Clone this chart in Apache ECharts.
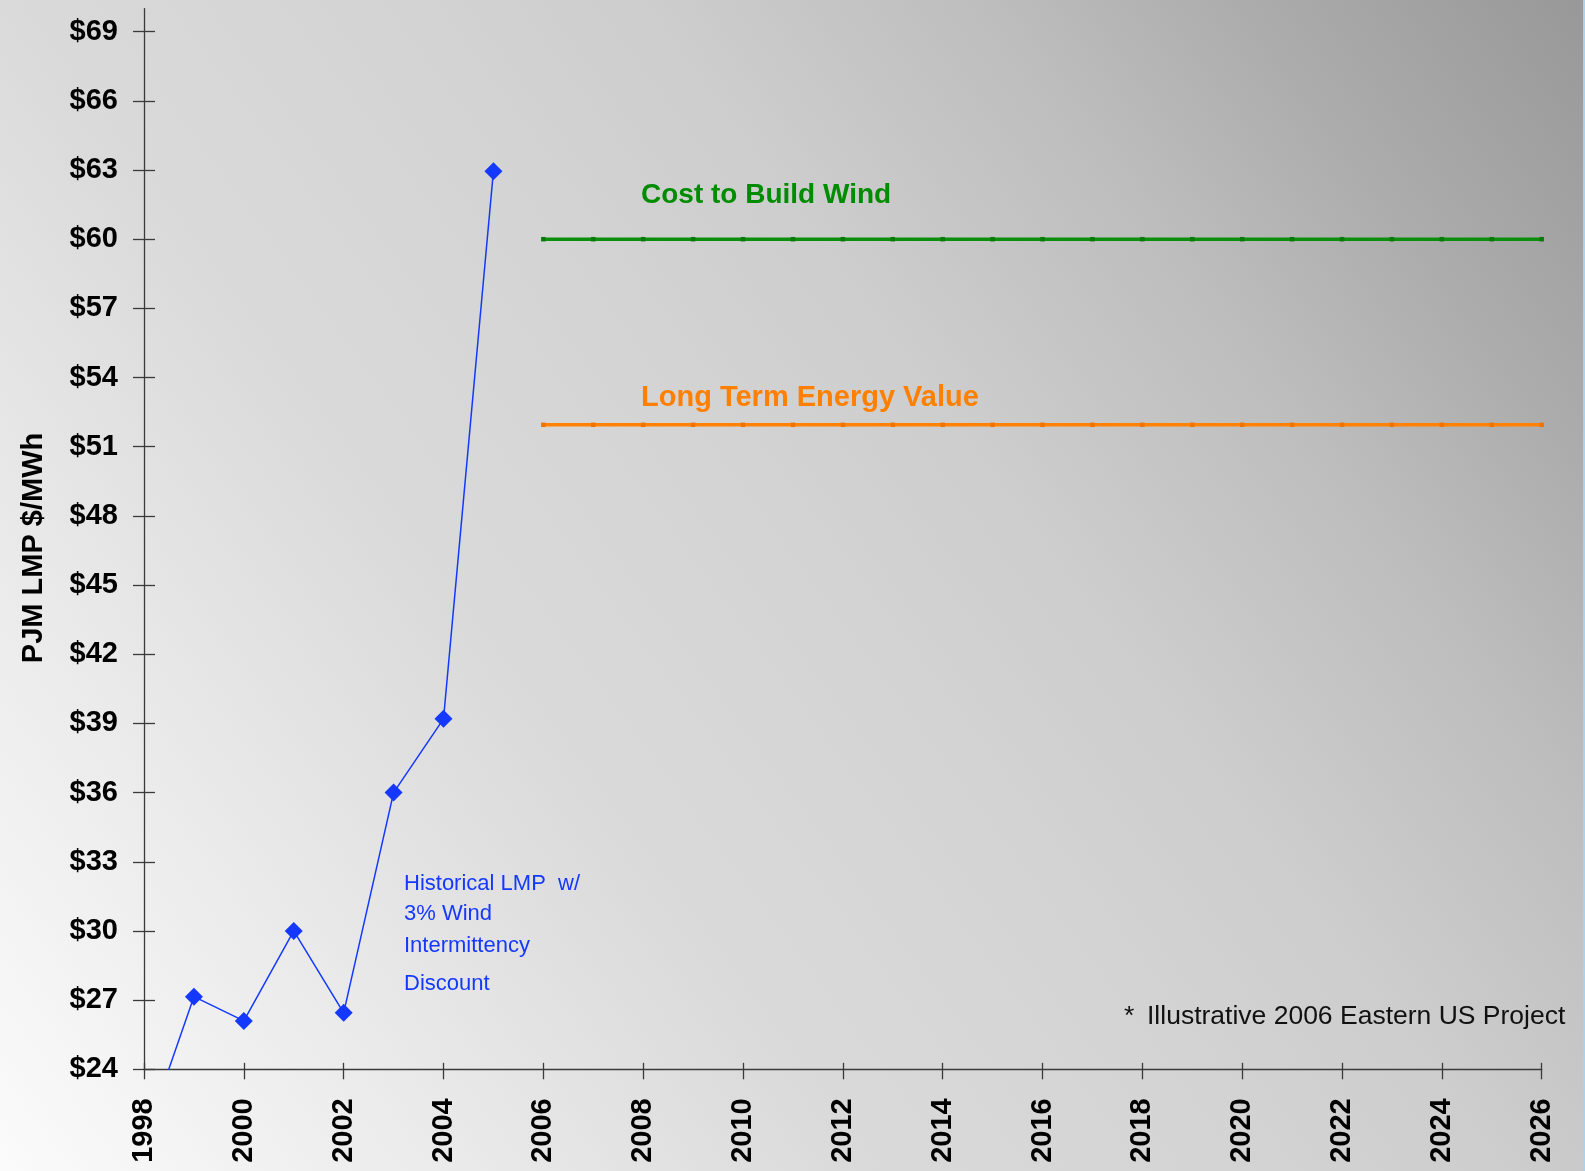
<!DOCTYPE html>
<html>
<head>
<meta charset="utf-8">
<script src="https://cdn.jsdelivr.net/npm/echarts@6/dist/echarts.min.js"></script>
<style>
html,body{margin:0;padding:0;}
#chart{width:1585px;height:1171px;}
</style>
</head>
<body>
<div id="chart"></div>
<script>
// ---- data ----
const historicalYears = [1998, 1999, 2000, 2001, 2002, 2003, 2004, 2005];
const historicalLMP   = [20.9, 27.15, 26.1, 30.0, 26.45, 36.0, 39.2, 62.95];
const projectYears = [2006, 2007, 2008, 2009, 2010, 2011, 2012, 2013, 2014, 2015, 2016,
                      2017, 2018, 2019, 2020, 2021, 2022, 2023, 2024, 2025, 2026];
const costToBuildWind = [60, 60, 60, 60, 60, 60, 60, 60, 60, 60, 60, 60, 60, 60, 60, 60, 60, 60, 60, 60, 60];
const longTermEnergyValue = [51.95, 51.95, 51.95, 51.95, 51.95, 51.95, 51.95, 51.95, 51.95, 51.95, 51.95,
                             51.95, 51.95, 51.95, 51.95, 51.95, 51.95, 51.95, 51.95, 51.95, 51.95];
const yTickValues = [24, 27, 30, 33, 36, 39, 42, 45, 48, 51, 54, 57, 60, 63, 66, 69];
const yAxisName = 'PJM LMP $/MWh';
const seriesNames = ['Historical LMP w/ 3% Wind Intermittency Discount', 'Cost to Build Wind', 'Long Term Energy Value'];
const blueNote = ['Historical LMP  w/', '3% Wind', 'Intermittency', 'Discount'];
const footnote = 'Illustrative 2006 Eastern US Project';

// ---- chart ----
const FONT = '"Liberation Sans", Arial, Helvetica, sans-serif';
const axisColor = '#3a3a3a';
const chart = echarts.init(document.getElementById('chart'), null, {renderer: 'canvas'});

const hist = historicalYears.map((y, i) => [y, historicalLMP[i]]);
const green = projectYears.map((y, i) => [y, costToBuildWind[i]]);
const orange = projectYears.map((y, i) => [y, longTermEnergyValue[i]]);

const option = {
  animation: false,
  backgroundColor: {
    type: 'linear', x: 0, y: 1, x2: 1, y2: 0,
    colorStops: [
      {offset: 0, color: '#fbfbfb'},
      {offset: 0.18, color: '#ebebeb'},
      {offset: 0.353, color: '#dadada'},
      {offset: 0.5, color: '#d4d4d4'},
      {offset: 0.62, color: '#cdcdcd'},
      {offset: 0.757, color: '#bdbdbd'},
      {offset: 0.86, color: '#acacac'},
      {offset: 1, color: '#989898'}
    ]
  },
  grid: {left: 144, right: 43.3, top: 8.6, bottom: 101.7, containLabel: false},
  xAxis: [
    {
      type: 'value', min: 1998, max: 2026, interval: 2, position: 'bottom',
      axisLine: {show: true, lineStyle: {color: axisColor, width: 1.3}},
      axisTick: {show: true, inside: false, length: 10, lineStyle: {color: axisColor, width: 1.3}},
      axisLabel: {rotate: 90, margin: 29, fontSize: 29, fontWeight: 'bold', color: '#000', fontFamily: FONT,
                  formatter: v => String(v)},
      splitLine: {show: false}
    },
    {
      type: 'value', min: 1998, max: 2026, interval: 2, position: 'bottom',
      axisLine: {show: false},
      axisTick: {show: true, inside: true, length: 6.5, lineStyle: {color: axisColor, width: 1.3}},
      axisLabel: {show: false},
      splitLine: {show: false}
    }
  ],
  yAxis: [
    {
      type: 'value', min: 24, max: 70, position: 'left',
      name: yAxisName, nameLocation: 'middle', nameGap: 96,
      nameTextStyle: {fontSize: 29, fontWeight: 'bold', color: '#000', fontFamily: FONT, padding: [0, 18, 0, 0]},
      axisLine: {show: true, lineStyle: {color: axisColor, width: 1.3}},
      axisTick: {show: true, inside: false, length: 11, customValues: yTickValues, lineStyle: {color: axisColor, width: 1.3}},
      axisLabel: {customValues: yTickValues, margin: 26, fontSize: 29, fontWeight: 'bold', color: '#000', fontFamily: FONT,
                  formatter: v => '$' + v},
      splitLine: {show: false}
    },
    {
      type: 'value', min: 24, max: 70, position: 'left',
      axisLine: {show: false},
      axisTick: {show: true, inside: true, length: 11, customValues: yTickValues, lineStyle: {color: axisColor, width: 1.3}},
      axisLabel: {show: false},
      splitLine: {show: false}
    }
  ],
  series: [
    {
      name: seriesNames[0], type: 'line', data: hist, xAxisIndex: 0, yAxisIndex: 0,
      symbol: 'diamond', symbolSize: 18, clip: true, z: 5,
      itemStyle: {color: '#1538ff'},
      lineStyle: {color: '#1538ff', width: 1.5}
    },
    {
      name: seriesNames[1], type: 'line', data: green, xAxisIndex: 0, yAxisIndex: 0,
      symbol: 'rect', symbolSize: 4.5, showSymbol: true, z: 3,
      itemStyle: {color: '#087a08'},
      lineStyle: {color: '#0b8e0b', width: 3.5}
    },
    {
      name: seriesNames[2], type: 'line', data: orange, xAxisIndex: 0, yAxisIndex: 0,
      symbol: 'rect', symbolSize: 4.5, showSymbol: true, z: 3,
      itemStyle: {color: '#f27400'},
      lineStyle: {color: '#ff8207', width: 3.5}
    }
  ],
  graphic: [
    {type: 'rect', right: 0, top: 0, shape: {width: 2, height: 1171}, style: {fill: '#a8d3ea'}, silent: true},
    {type: 'text', x: 641, y: 195, style: {text: seriesNames[1], font: 'bold 28px ' + FONT, fill: '#008c00', textVerticalAlign: 'middle'}},
    {type: 'text', x: 641, y: 398, style: {text: seriesNames[2], font: 'bold 29px ' + FONT, fill: '#ff8000', textVerticalAlign: 'middle'}},
    {type: 'text', x: 404, y: 884, style: {text: blueNote[0], font: '22px ' + FONT, fill: '#1538ff', textVerticalAlign: 'middle'}},
    {type: 'text', x: 404, y: 914, style: {text: blueNote[1], font: '22px ' + FONT, fill: '#1538ff', textVerticalAlign: 'middle'}},
    {type: 'text', x: 404, y: 946, style: {text: blueNote[2], font: '22px ' + FONT, fill: '#1538ff', textVerticalAlign: 'middle'}},
    {type: 'text', x: 404, y: 984, style: {text: blueNote[3], font: '22px ' + FONT, fill: '#1538ff', textVerticalAlign: 'middle'}},
    {type: 'text', x: 1124, y: 1017, style: {text: '*', font: '26.5px ' + FONT, fill: '#111', textVerticalAlign: 'middle'}},
    {type: 'text', x: 1147, y: 1017, style: {text: footnote, font: '26.5px ' + FONT, fill: '#111', textVerticalAlign: 'middle'}}
  ]
};
chart.setOption(option);
</script>
</body>
</html>
